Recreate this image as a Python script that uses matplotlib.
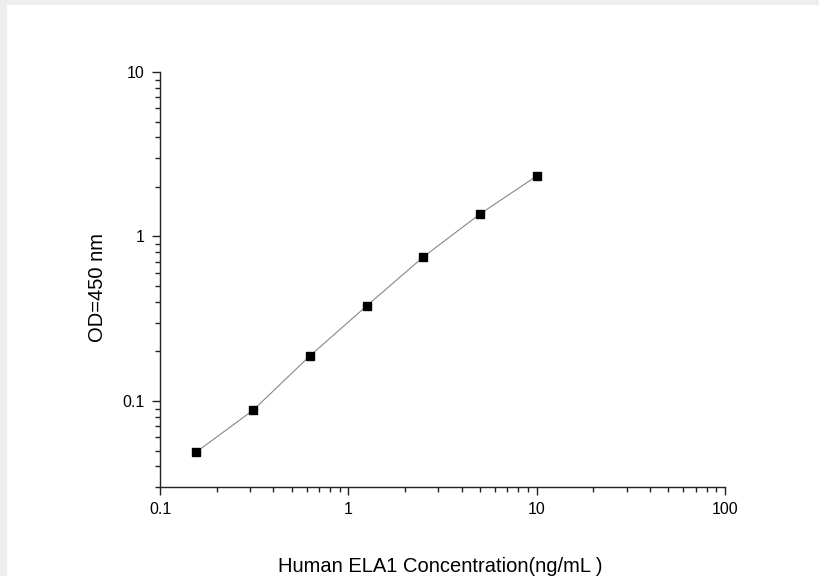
import matplotlib
matplotlib.use("Agg")
import matplotlib.pyplot as plt
from matplotlib.patches import Rectangle
from matplotlib.ticker import LogLocator, FixedLocator, FixedFormatter, NullFormatter

plt.rcParams['font.family'] = ['Liberation Sans', 'DejaVu Sans']

conc = [0.156, 0.3125, 0.625, 1.25, 2.5, 5, 10]
od = [0.049, 0.088, 0.188, 0.378, 0.751, 1.37, 2.33]
x_ticks = [0.1, 1, 10, 100]
x_tick_labels = ["0.1", "1", "10", "100"]
y_ticks = [0.1, 1, 10]
y_tick_labels = ["0.1", "1", "10"]

W, H = 820, 576
fig = plt.figure(figsize=(W / 100, H / 100), dpi=100, facecolor='white')
fig.patches.append(Rectangle((0, 1 - 5 / H), 1, 5 / H, transform=fig.transFigure,
                             facecolor='#eeeeee', edgecolor='none', zorder=0))
fig.patches.append(Rectangle((0, 0), 7 / W, 1, transform=fig.transFigure,
                             facecolor='#eeeeee', edgecolor='none', zorder=0))

ax = fig.add_axes([160 / W, (H - 487) / H, 565 / W, 415 / H])
ax.set_facecolor('none')
ax.plot(conc, od, color='#888888', lw=0.8, zorder=2)
ax.plot(conc, od, linestyle='none', marker='s', markersize=5.5, color='black', zorder=3)
ax.set_xscale('log')
ax.set_yscale('log')
ax.set_xlim(0.1, 100)
ax.set_ylim(0.03, 10)

for s in ['top', 'right']:
    ax.spines[s].set_visible(False)
for s in ['left', 'bottom']:
    ax.spines[s].set_linewidth(1.0)
    ax.spines[s].set_color('#222222')

ax.xaxis.set_major_locator(FixedLocator(x_ticks))
ax.xaxis.set_major_formatter(FixedFormatter(x_tick_labels))
ax.yaxis.set_major_locator(FixedLocator(y_ticks))
ax.yaxis.set_major_formatter(FixedFormatter(y_tick_labels))
ax.xaxis.set_minor_locator(LogLocator(base=10, subs=range(2, 10), numticks=20))
ax.yaxis.set_minor_locator(LogLocator(base=10, subs=range(2, 10), numticks=20))
ax.xaxis.set_minor_formatter(NullFormatter())
ax.yaxis.set_minor_formatter(NullFormatter())
ax.tick_params(which='major', direction='out', length=6, width=1.0, labelsize=11.5, color='#222222', pad=5)
ax.tick_params(which='minor', direction='out', length=3.5, width=1.0, color='#222222')

fig.text(440 / W, 1 - 572 / H, "Human ELA1 Concentration(ng/mL )", ha='center', va='baseline', fontsize=14.5)
fig.text(98 / W, 1 - 288 / H, "OD=450 nm", ha='center', va='center', rotation=90, fontsize=14.5)

fig.savefig('out.png', dpi=100, facecolor=fig.get_facecolor())
